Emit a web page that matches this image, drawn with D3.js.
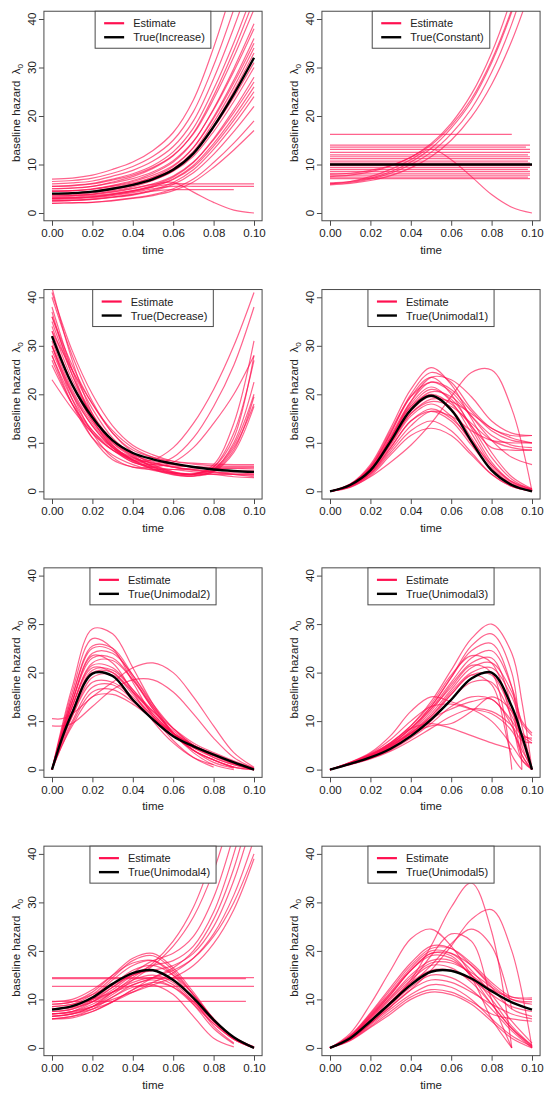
<!DOCTYPE html>
<html>
<head>
<meta charset="utf-8">
<script src="https://cdn.jsdelivr.net/npm/d3@7"></script>
<style>
  body { margin: 0; background: #fff; }
  svg { display: block; font-family: "Liberation Sans", Arial, sans-serif; }
</style>
</head>
<body>
<script>
// time grids (x values of the sampled curves)
const grid = [0, 0.01, 0.02, 0.03, 0.04, 0.05, 0.06, 0.07, 0.08, 0.09, 0.10];
const gridEarly = [0, 0.005, 0.01, 0.02, 0.03, 0.04, 0.05, 0.06, 0.07, 0.08, 0.09, 0.10];
const gridLate = [0, 0.01, 0.02, 0.03, 0.04, 0.05, 0.06, 0.07, 0.08, 0.09, 0.095, 0.10];

const xTicks = [0, 0.02, 0.04, 0.06, 0.08, 0.10];
const yTicks = [0, 10, 20, 30, 40];
const legendLabels = ['True(Increase)', 'True(Constant)', 'True(Decrease)', 'True(Unimodal1)',
                      'True(Unimodal2)', 'True(Unimodal3)', 'True(Unimodal4)', 'True(Unimodal5)'];

// ---- Increase
const increaseTrue = [4, 4.1, 4.4, 5.0, 5.8, 7.0, 8.9, 12.3, 17.8, 24.5, 32];
const increaseEst = [
  [7, 7.2, 7.8, 9.0, 10.5, 12.9, 16.6, 23.3, 34.1, 47.3, 62],
  [6.5, 6.7, 7.2, 8.2, 9.6, 11.7, 15.0, 20.9, 30.4, 42.0, 55],
  [6, 6.2, 6.6, 7.6, 8.8, 10.7, 13.7, 19.0, 27.7, 38.2, 50],
  [5.5, 5.7, 6.1, 7.0, 8.1, 9.8, 12.6, 17.5, 25.5, 35.1, 46],
  [5, 5.2, 5.5, 6.4, 7.5, 9.2, 11.8, 16.5, 24.2, 33.5, 44],
  [5.5, 5.6, 6.0, 6.8, 7.8, 9.4, 11.9, 16.3, 23.5, 32.2, 42],
  [4.5, 4.6, 5.0, 5.7, 6.7, 8.2, 10.5, 14.7, 21.5, 29.8, 39],
  [5, 5.1, 5.5, 6.2, 7.1, 8.5, 10.8, 14.8, 21.3, 29.2, 38],
  [4, 4.1, 4.4, 5.2, 6.0, 7.4, 9.6, 13.5, 19.8, 27.4, 36],
  [4.5, 4.6, 4.9, 5.6, 6.5, 7.8, 9.8, 13.5, 19.5, 26.8, 35],
  [3.5, 3.6, 3.9, 4.6, 5.4, 6.7, 8.7, 12.2, 18.0, 25.1, 33],
  [4, 4.1, 4.4, 4.9, 5.7, 6.8, 8.6, 11.7, 16.8, 23.0, 30],
  [3, 3.1, 3.4, 3.9, 4.6, 5.7, 7.4, 10.4, 15.3, 21.3, 28],
  [3.5, 3.6, 3.8, 4.3, 5.0, 6.0, 7.6, 10.5, 15.1, 20.7, 27],
  [3, 3.1, 3.3, 3.8, 4.4, 5.4, 6.9, 9.5, 13.8, 19.1, 25],
  [2.5, 2.6, 2.8, 3.3, 3.9, 4.8, 6.3, 8.9, 13.1, 18.2, 24],
  [2.5, 2.6, 2.8, 3.2, 3.7, 4.6, 5.9, 8.3, 12.1, 16.8, 22],
  [2, 2.1, 2.2, 2.6, 3.1, 3.8, 5.0, 7.0, 10.4, 14.4, 19],
  [2, 2.1, 2.2, 2.5, 3.0, 3.6, 4.6, 6.4, 9.4, 13.0, 17],
  [3, 3.1, 3.3, 3.8, 4.5, 5.5, 7.0, 9.8, 14.3, 19.8, 26],
  [4.5, 4.6, 4.9, 5.5, 6.2, 7.3, 9.1, 12.3, 17.6, 23.9, 31],
  [3.8, 3.9, 4.2, 4.9, 5.7, 7.0, 9.1, 12.7, 18.7, 25.9, 34],
  [3.2, 3.3, 3.6, 4.0, 4.6, 5.4, 6.0, 6.0, 6.0, 6.0, 6.0],
  [2.8, 2.9, 3.2, 3.6, 4.2, 5.0, 5.5, 5.5, 5.5, 5.5, 5.5],
  [2.5, 2.6, 2.9, 3.3, 3.8, 4.5, 4.8, 4.8, 4.8, 4.8, null],
  [3.5, 3.6, 3.9, 4.4, 5.1, 5.9, 6.3, 4.3, 2.2, 0.6, 0]
];

// ---- Constant
const constantTrue = [10, 10, 10, 10, 10, 10, 10, 10, 10, 10, 10];
const constantEst = [
  [7.5, 7.8, 8.5, 9.7, 11.5, 14.3, 18.5, 24.5, 33, 44.5, 59],
  [8, 8.2, 8.8, 9.8, 11.5, 14, 18, 23.5, 31.5, 42, 55],
  [6.2, 6.5, 7.2, 8.5, 10.5, 13.3, 17.5, 23, 31, 41.5, 55],
  [6, 6.3, 7, 8.2, 10, 12.5, 16.3, 21.5, 29, 39, 52],
  [5.8, 6.1, 6.7, 7.7, 9.3, 11.6, 15, 19.8, 26.5, 35.5, 47],
  [6, 6.5, 7.5, 9, 11, 13.2, 11, 7.5, 3.8, 1.2, 0]
];
// flat estimates: [level, end time]
const constantLevels = [
  [16.2, 0.09], [14, 0.099], [13.6, 0.097], [13.1, 0.099], [12.5, 0.099], [12, 0.098],
  [11.6, 0.099], [11.2, 0.099], [10.7, 0.098], [10.3, 0.099], [9.8, 0.1], [9.4, 0.099],
  [9, 0.098], [8.6, 0.099], [8.2, 0.099], [7.8, 0.099], [7.4, 0.098], [7.1, 0.099]
];

// ---- Decrease
const decreaseTrue = [32, 22, 15.2, 10.5, 7.9, 6.6, 5.7, 5.0, 4.5, 4.2, 4.0];
const decreaseEst = [
  [42, 27, 16, 9.5, 6.5, 6.5, 9, 14, 21, 30, 41],
  [38, 25, 15, 9, 6, 5.5, 7, 11, 17.5, 26, 38],
  [30, 20, 12, 7, 5, 5, 6, 9, 14, 20, 28],
  [40, 28, 18.5, 12, 8, 5.5, 4, 3.5, 5.5, 14, 31],
  [36, 25, 17, 11, 7.5, 5, 3.8, 3.5, 5, 12, 27],
  [34, 23, 15.5, 10, 7, 5, 3.8, 3.5, 4.5, 10, 22.5],
  [33, 22, 14.5, 9.5, 6.5, 4.8, 3.6, 3.2, 4.2, 8.5, 19.5],
  [31, 21, 14, 9.3, 6.5, 4.6, 3.5, 3.1, 4, 8, 17.5],
  [30, 20.5, 13.5, 9, 6.2, 4.5, 3.4, 3.2, 4.3, 9, 18],
  [29, 20, 13.5, 9, 6.3, 4.6, 3.8, 3.6, 5, 11, 28],
  [35, 24, 16, 10.5, 7.2, 5.2, 4, 3.6, 4.6, 9.5, 20],
  [28, 19, 12.5, 8.5, 6.4, 5.5, 5.2, 5.1, 5, 5, 5],
  [32, 22, 14.5, 10, 7.5, 6.2, 5.5, 5, 4.8, 4.7, 4.6],
  [27, 18, 12, 8.5, 6.8, 5.8, 5, 4.4, 4, 3.8, 3.6],
  [37, 24, 15.5, 10.5, 7.7, 6, 5, 4.3, 3.8, 3.5, 3.3],
  [26, 18, 12.5, 9, 7, 5.8, 5, 4.5, 4, 3.5, 3],
  [23, 17, 12, 8.5, 6, 5, 4.5, 4, 3.5, 3, 2.8],
  [33, 25, 18, 12, 8.5, 7, 6.2, 5.8, 5.6, 5.5, 5.5],
  [30, 19, 11, 6.5, 5, 4.5, 4.5, 4.6, 4.7, 4.8, 4.8],
  [41, 29, 20, 13.5, 9.5, 7.5, 6.2, 5.6, 5.3, 5.2, 5.2],
  [36, 26, 18, 12.5, 9, 7, 5.8, 5, 4.5, 4.2, 4.2],
  [28, 18, 11, 7.5, 5.5, 4.3, 3.7, 3.5, 3.5, 3.5, 3.5]
];

// ---- Unimodal1
const unimodal1True = [0, 1.3, 4.3, 10.3, 16.8, 19.7, 16.8, 10.3, 4.3, 1.3, 0];
const unimodal1Est = [
  [0, 1.5, 5.5, 13, 21, 25.5, 22, 15, 8, 3, 0.5],
  [0, 1.5, 5, 12, 20, 24.5, 22.5, 17, 13, 11.5, 11.5],
  [0, 1.4, 5, 12, 19.5, 23.5, 20, 13, 6, 2, 0.3],
  [0, 1.3, 4.8, 11.5, 18.5, 22.5, 21, 16.5, 12.5, 10.5, 10],
  [0, 1.3, 4.5, 11, 18, 21.5, 18.5, 12, 5.5, 1.8, 0.2],
  [0, 1.2, 4.4, 10.5, 17, 20.5, 19.5, 15.5, 11.5, 9.5, 9],
  [0, 1.2, 4.2, 10, 16.5, 19.5, 17, 11, 5, 1.5, 0],
  [0, 1.2, 4.2, 9.8, 16, 18.5, 17.5, 14, 10.5, 9, 8.5],
  [0, 1.1, 4, 9.5, 15.5, 18, 15.5, 10, 4.5, 1.5, 0.2],
  [0, 1.1, 3.8, 9, 14.5, 17, 15, 10.5, 5.5, 2, 0.5],
  [0, 1, 3.6, 8.5, 13.5, 16.5, 15.5, 12.5, 10.5, 10, 10],
  [0, 1, 3.5, 8, 12.5, 14.5, 12.5, 8, 3.5, 1, 0],
  [0, 0.9, 3.2, 7.5, 11.5, 13, 11.5, 7.5, 3.5, 1, 0.1],
  [0, 1.4, 5.2, 12.5, 19.5, 22.5, 20.5, 15.5, 10.5, 7, 5.5],
  [0, 1.3, 4.6, 11, 17.5, 20, 18, 13.5, 9, 8.5, 8.5],
  [0, 0.8, 3, 6, 9.5, 14, 19.5, 24.5, 25, 17, 0],
  [0, 1.3, 4.5, 11, 18.5, 23.5, 23, 19.5, 14.5, 12, 11.5],
  [0, 1.2, 4.2, 10, 16, 19, 18.5, 16, 13, 11, 10],
  [0, 1, 3.8, 9, 14.5, 16.5, 14.5, 9.5, 4.5, 1.2, 0],
  [0, 1.3, 4.5, 10.8, 17.5, 21, 19, 13.5, 7, 2.5, 0.3]
];

// ---- Unimodal2 (gridEarly)
const unimodal2True = [0, 6.5, 11.7, 19.8, 19.3, 14.4, 10.3, 6.9, 4.8, 3.1, 1.5, 0];
const unimodal2Est = [
  [0, 9, 17, 29, 28, 21, 13.5, 7.5, 3.5, 1, 0, null],
  [0, 8.5, 16, 27, 25, 18, 11, 6, 2.5, 0.5, null, null],
  [0, 8, 15, 25, 24.5, 19, 12.5, 7.5, 4, 1.5, 0.3, null],
  [0, 7.5, 14, 24, 24, 19.5, 13.5, 8.5, 5, 2.5, 1, 0],
  [0, 7.5, 14, 23, 23, 18.5, 12.5, 7.5, 4, 2, 0.5, 0],
  [0, 7, 13, 22, 22.5, 18.5, 13, 8.5, 5, 3, 1.5, 0],
  [0, 7, 13, 21.5, 21, 16.5, 11.5, 7.5, 4.5, 2.5, 1, 0],
  [0, 6.5, 12, 20, 20, 16, 11.5, 7.5, 4.8, 3, 1.5, 0.2],
  [0, 6, 11, 19, 19.5, 16, 12, 8.5, 5.5, 3.5, 1.8, 0.3],
  [0, 6, 11, 18, 18, 15, 11, 7.5, 5, 3, 1.5, 0],
  [0, 5.5, 10, 17, 17.5, 14.5, 10.5, 7, 4.5, 2.8, 1.2, 0],
  [0, 5, 9.5, 16, 16.5, 14, 10.5, 7.5, 5, 3.2, 1.5, 0],
  [0, 5, 9, 15, 15.5, 13.5, 10.5, 7.5, 5, 3, 1.2, 0],
  [10.5, 10.5, 11.5, 15, 18, 21, 22, 20, 15, 9, 3.5, 0.5],
  [9, 9, 9.5, 13, 16.5, 18.5, 18.5, 16, 11.5, 6.5, 2.5, 0.3],
  [0, 7.5, 14, 23.5, 22, 16, 10, 5.5, 2.5, 1, null, null],
  [0, 8, 15, 25.5, 25, 19.5, 13, 7.5, 4, 2, 0.5, null],
  [0, 6.5, 12, 20.5, 20.5, 16.5, 12, 8, 5, 3, 1.5, 0],
  [0, 7, 13, 21, 20, 15.5, 11, 7, 4, 2, 0.5, 0]
];

// ---- Unimodal3 (gridLate)
const unimodal3True = [0, 1.2, 2.5, 4.3, 6.9, 10.3, 14.4, 18.8, 20, 13, 7, 0];
const unimodal3Est = [
  [0, 1.5, 3.2, 5.5, 9, 14, 20.5, 27, 30, 24, 14, 0],
  [0, 1.4, 3, 5.3, 8.5, 13, 19, 25.5, 28, 20, 0, null],
  [0, 1.4, 3, 5.2, 8.5, 13, 19, 24.5, 26, 17, 5, 0],
  [0, 1.3, 2.8, 5, 8, 12.5, 18, 23, 24.5, 17, 9, 0],
  [0, 1.3, 2.8, 4.8, 7.8, 12, 17.5, 22, 23, 13, 3, 0],
  [0, 1.2, 2.6, 4.6, 7.5, 11.5, 16.5, 21, 22, 16, 10, 7.5],
  [0, 1.2, 2.6, 4.5, 7.2, 11, 16, 20, 21, 15, 9.5, 7],
  [0, 1.1, 2.4, 4.3, 7, 10.5, 15.5, 19.5, 19.5, 12, 7.5, 6],
  [0, 1.1, 2.4, 4.2, 6.8, 10, 14.5, 18, 18, 11, 7, 5.5],
  [0, 1.5, 3.5, 7, 12, 15, 14, 12.5, 10, 5, 2, 0],
  [0, 1.4, 3.3, 6.2, 10, 13, 13.5, 12.5, 11.5, 8, 4, 0.5],
  [0, 1.3, 3, 5.5, 8.5, 9.5, 8.5, 7, 5.5, 4.2, null, null],
  [0, 1.2, 2.8, 5, 7.5, 9, 9.5, 12, 15, 12, 6, 0],
  [0, 1.2, 2.7, 4.8, 7.5, 10.5, 12.5, 14, 14.5, 9, 3, 0],
  [0, 1.3, 2.9, 5.2, 8.4, 12.5, 17, 21.5, 20, 0, null, null],
  [0, 1.2, 2.7, 4.7, 7.5, 11, 15.5, 19.5, 17.5, 3, 0, null],
  [0, 1.4, 3.1, 5.6, 9, 13.5, 19.5, 23.5, 22, 10, 2, 0],
  [0, 1.1, 2.3, 4, 6.5, 9.5, 13, 15, 14.5, 10, 7, 6.5],
  [0, 1.0, 2.2, 3.8, 6, 8.5, 11, 12.5, 12, 9, 6, 5.5]
];

// ---- Unimodal4
const unimodal4True = [7.9, 8.6, 10.4, 13.2, 15.4, 16, 14, 10.3, 5.8, 2.2, 0];
const unimodal4Est = [
  [7, 7.5, 9, 11.5, 14.5, 17.5, 22, 29, 40, 54, 70],
  [6.5, 7, 8.5, 11, 14, 17, 21, 27, 36.5, 50, 66],
  [8, 8.5, 10, 12.5, 15.5, 18, 19.5, 23, 31, 44, 60],
  [7.5, 8, 9.5, 12, 15, 17, 18, 21, 28, 40, 56],
  [6, 6.5, 7.5, 9.5, 12, 14.5, 16.5, 20, 26.5, 37, 52],
  [9, 9.5, 11, 13, 15, 16, 17, 19.5, 25, 34.5, 48],
  [6.5, 7, 8, 9.5, 11.5, 13.5, 15.5, 18.5, 23.5, 31.5, 43],
  [8.5, 9, 10, 11.5, 13, 14.5, 16, 18.5, 23, 30, 40],
  [7, 7.5, 8.5, 10, 11.5, 13, 14.5, 17, 21.5, 28.5, 39],
  [9, 9.5, 11.5, 15, 18.5, 19.5, 16.5, 11.5, 6, 2, 0.2],
  [8.5, 9, 11, 14.5, 18, 19, 16, 11, 5.5, 1.8, 0],
  [8, 8.5, 10.5, 14, 17, 18, 15.5, 11, 6, 2.2, 0.2],
  [7.5, 8, 10, 13, 16, 17, 15, 11, 6, 2, 0],
  [7, 7.5, 9.5, 12.5, 15, 16, 14, 10, 5.5, 2, 0],
  [6.5, 7, 8.5, 11.5, 14, 15, 13.5, 9.5, 5, 1.8, 0],
  [6, 6.5, 8, 10.5, 13, 14, 12.5, 9, 5, 1.8, 0],
  [6, 6.2, 7.5, 9.5, 12, 13.5, 12.5, 9.5, 5.5, 2.2, 0.2],
  [9.5, 10, 12, 15, 17.5, 18, 15, 10, 4.5, 1, null],
  [8, 8.3, 9.5, 11.5, 13.5, 14.5, 13, 9, 4, 0.8, null],
  [7, 7.3, 8.5, 10.5, 12.5, 13, 11, 6.5, 2, 0.2, null]
];
const unimodal4Levels = [[14.5, 0.1], [14.3, 0.096], [12.7, 0.1], [9.6, 0.096]];

// ---- Unimodal5
const unimodal5True = [0, 2, 5.5, 9.3, 13, 15.7, 15.9, 14.3, 11.7, 9.4, 7.9];
const unimodal5Est = [
  [0, 3, 9, 16, 22.5, 24.5, 21, 15, 9, 4, 0.5],
  [0, 2, 5.5, 9.5, 14, 21, 29, 34, 24, 0, null],
  [0, 1.8, 5, 8.5, 12, 16, 21, 26.5, 28.5, 20, 0],
  [0, 1.8, 5, 9, 13, 17, 21.5, 24.5, 21, 8, null],
  [0, 2, 5.5, 9.5, 13.5, 19, 23.5, 22, 10, 0, null],
  [0, 2.5, 7, 12, 17, 20.5, 20.5, 17.5, 13.5, 10.5, 10],
  [0, 2.4, 6.8, 11.5, 16.5, 20, 19.5, 16, 11, 5.5, 1],
  [0, 2.3, 6.5, 11, 16, 19.5, 19.5, 17, 13, 10, 9],
  [0, 2.2, 6.2, 10.5, 15, 18, 18, 15, 10, 4.5, 0.5],
  [0, 2.1, 6, 10.3, 14.5, 17.5, 17.5, 15.5, 12.5, 10, 9.5],
  [0, 2, 5.7, 10, 14, 17, 16.5, 13.5, 9, 4, 0.2],
  [0, 2, 5.5, 9.5, 13.5, 16, 16, 14, 11, 8.5, 7.5],
  [0, 1.9, 5.3, 9, 12.5, 15, 14.5, 12, 8, 3.5, 0],
  [0, 1.8, 5, 8.5, 12, 14, 13.5, 11.5, 9, 7, 6],
  [0, 1.7, 4.7, 8, 11, 13, 12.5, 10, 6, 2.5, 0.3],
  [0, 1.6, 4.4, 7.5, 10.5, 12, 11.5, 9.5, 7, 6, 5.5],
  [0, 1.5, 4.2, 7, 10, 11.5, 11, 9, 5.5, 2, 0],
  [0, 2.2, 6.3, 11, 16, 19, 18.5, 15, 12, 10.5, 10.3],
  [0, 2.6, 7.2, 12.5, 17.5, 21, 20.5, 17, 12.5, 8, 6.5],
  [0, 2.3, 6.6, 11.3, 16, 19.5, 19, 14.5, 6, 0, null]
];

// table built from the arrays above
const panels = [
  {times: grid, truth: increaseTrue, est: increaseEst, levels: []},
  {times: grid, truth: constantTrue, est: constantEst, levels: constantLevels},
  {times: grid, truth: decreaseTrue, est: decreaseEst, levels: []},
  {times: grid, truth: unimodal1True, est: unimodal1Est, levels: []},
  {times: gridEarly, truth: unimodal2True, est: unimodal2Est, levels: []},
  {times: gridLate, truth: unimodal3True, est: unimodal3Est, levels: []},
  {times: grid, truth: unimodal4True, est: unimodal4Est, levels: unimodal4Levels},
  {times: grid, truth: unimodal5True, est: unimodal5Est, levels: []}
];

const estColor = '#ff1050';
const axisColor = '#4a4a4a';
const textColor = '#222';

const svg = d3.select('body').append('svg')
    .attr('width', 550)
    .attr('height', 1100);

function drawPanel(p, i) {
    const col = i % 2, row = Math.floor(i / 2);
    // scales: 0..0.1 and 0..40 in pixels, frame extended by 4% like R
    const x = d3.scaleLinear().domain([0, 0.1]).range([52 + col * 278, 254 + col * 278]);
    const y = d3.scaleLinear().domain([0, 40]).range([213 + row * 278.3, 19 + row * 278.3]);
    const left = x(-0.004), right = x(0.104), top = y(41.6), bottom = y(-1.6);

    const g = svg.append('g');
    const clipId = 'clip' + i;
    g.append('clipPath').attr('id', clipId)
        .append('rect')
        .attr('x', left).attr('y', top)
        .attr('width', right - left).attr('height', bottom - top);

    const line = d3.line()
        .defined(d => d[1] != null)
        .x(d => x(d[0]))
        .y(d => y(d[1]))
        .curve(d3.curveCatmullRom.alpha(0.5));

    const plot = g.append('g').attr('clip-path', `url(#${clipId})`);

    const curves = p.est.map(vals => vals.map((v, k) => [p.times[k], v]));
    p.levels.forEach(l => curves.push([[0, l[0]], [l[1], l[0]]]));

    plot.selectAll('path.est').data(curves).enter()
        .append('path')
        .attr('class', 'est')
        .attr('d', line)
        .attr('fill', 'none')
        .attr('stroke', estColor)
        .attr('stroke-opacity', 0.65)
        .attr('stroke-width', 1.2);

    plot.append('path')
        .datum(p.truth.map((v, k) => [p.times[k], v]))
        .attr('d', line)
        .attr('fill', 'none')
        .attr('stroke', '#000')
        .attr('stroke-width', 2.4);

    // frame
    g.append('rect')
        .attr('x', left).attr('y', top)
        .attr('width', right - left).attr('height', bottom - top)
        .attr('fill', 'none')
        .attr('stroke', axisColor)
        .attr('stroke-width', 1);

    // x axis
    const xAxis = g.append('g')
        .attr('transform', `translate(0,${bottom})`)
        .call(d3.axisBottom(x).tickValues(xTicks).tickFormat(d3.format('.2f')).tickSize(5).tickPadding(3));
    xAxis.select('.domain').remove();
    xAxis.selectAll('line').attr('stroke', axisColor);
    xAxis.selectAll('text')
        .attr('fill', textColor)
        .style('font-size', '11.5px')
        .style('font-family', '"Liberation Sans", Arial, sans-serif');

    // y axis: ticks from d3, labels rotated as in R
    const yAxis = g.append('g')
        .attr('transform', `translate(${left},0)`)
        .call(d3.axisLeft(y).tickValues(yTicks).tickFormat('').tickSize(5));
    yAxis.select('.domain').remove();
    yAxis.selectAll('line').attr('stroke', axisColor);
    g.selectAll('text.ytick').data(yTicks).enter()
        .append('text')
        .attr('class', 'ytick')
        .attr('transform', d => `translate(${left - 8},${y(d)}) rotate(-90)`)
        .attr('text-anchor', 'middle')
        .attr('fill', textColor)
        .style('font-size', '11.5px')
        .text(d => d);

    // axis titles
    g.append('text')
        .attr('x', (left + right) / 2)
        .attr('y', bottom + 33)
        .attr('text-anchor', 'middle')
        .attr('fill', textColor)
        .style('font-size', '11.5px')
        .text('time');

    const yt = g.append('text')
        .attr('transform', `translate(${left - 24},${(top + bottom) / 2 - 3}) rotate(-90)`)
        .attr('text-anchor', 'middle')
        .attr('fill', textColor)
        .style('font-size', '11.5px');
    yt.append('tspan').text('baseline hazard\u00a0\u00a0\u03bb');
    yt.append('tspan').attr('dy', 3).style('font-size', '8px').text('0');

    // legend at top of plot region
    const lg = g.append('g');
    const lbox = lg.append('rect');
    const t1 = lg.append('text').text('Estimate');
    const t2 = lg.append('text').text(legendLabels[i]);
    lg.selectAll('text').attr('fill', textColor).style('font-size', '11px');
    const tw = Math.max(t1.node().getComputedTextLength(), t2.node().getComputedTextLength());
    const lw = 38 + tw + 6;
    const lx = (left + right) / 2 - lw / 2;
    lbox.attr('x', lx).attr('y', top).attr('width', lw).attr('height', 37)
        .attr('fill', '#fff').attr('stroke', axisColor).attr('stroke-width', 1);
    t1.attr('x', lx + 38).attr('y', top + 16);
    t2.attr('x', lx + 38).attr('y', top + 30);
    lg.append('line').attr('x1', lx + 9).attr('x2', lx + 29)
        .attr('y1', top + 12).attr('y2', top + 12)
        .attr('stroke', estColor).attr('stroke-width', 2.2);
    lg.append('line').attr('x1', lx + 9).attr('x2', lx + 29)
        .attr('y1', top + 26).attr('y2', top + 26)
        .attr('stroke', '#000').attr('stroke-width', 2.4);
}

panels.forEach(drawPanel);
</script>
</body>
</html>
